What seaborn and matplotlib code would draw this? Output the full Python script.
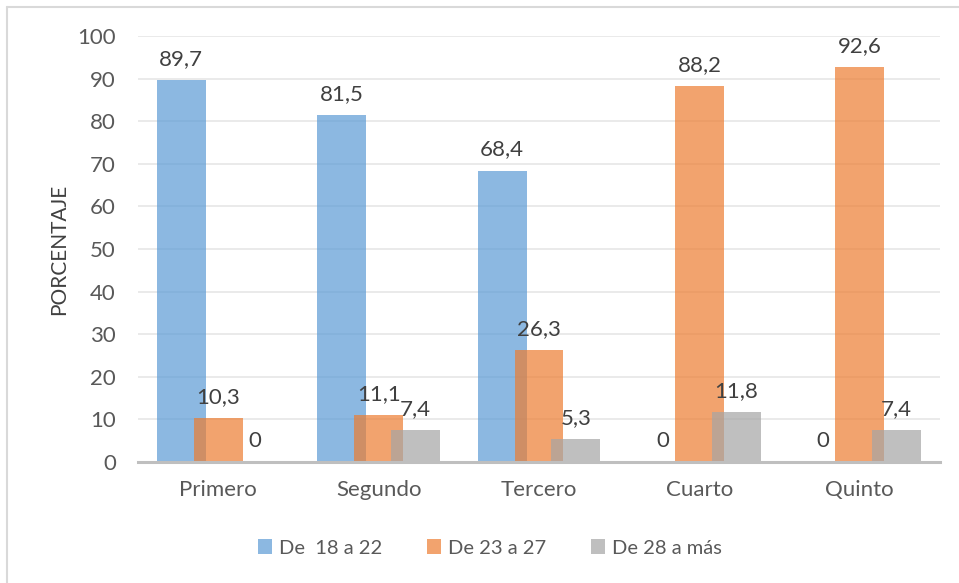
import matplotlib
matplotlib.use("Agg")
import matplotlib.pyplot as plt
import seaborn as sns
import numpy as np
import pandas as pd
from matplotlib.lines import Line2D
from matplotlib.patches import Patch

# Data
cursos = ["Primero", "Segundo", "Tercero", "Cuarto", "Quinto"]
edad_18_22 = [89.7, 81.5, 68.4, 0, 0]
edad_23_27 = [10.3, 11.1, 26.3, 88.2, 92.6]
edad_28_mas = [0, 7.4, 5.3, 11.8, 7.4]
series_nombres = ["De  18 a 22", "De 23 a 27", "De 28 a más"]
y_ticks = [0, 10, 20, 30, 40, 50, 60, 70, 80, 90, 100]

colores = ["#5B9BD5", "#ED7D31", "#A5A5A5"]
texto_gris = "#595959"
fs = 16

sns.set_theme(style="white")
plt.rcParams["font.family"] = ["Lato", "DejaVu Sans"]

fig = plt.figure(figsize=(9.59, 5.83), dpi=100)
ax = fig.add_axes([0.1439, 0.2075, 0.8363, 0.7308])

series = [edad_18_22, edad_23_27, edad_28_mas]
paso = 0.23       # spacing between the overlapping bars of a group
ancho = 0.305     # bar width in category units
base = np.arange(len(cursos))

for i, (vals, color, nombre) in enumerate(zip(series, colores, series_nombres)):
    df = pd.DataFrame({"x": base + (i - 1) * paso, "y": vals})
    sns.barplot(data=df, x="x", y="y", native_scale=True, width=ancho,
                color=color, alpha=0.7, saturation=1, linewidth=0,
                ax=ax, zorder=3, errorbar=None)
    for xv, yv in zip(df["x"], df["y"]):
        ax.annotate(f"{yv:g}".replace(".", ","), (xv, yv),
                    xytext=(0, 8), textcoords="offset points",
                    ha="center", va="bottom", fontsize=fs,
                    color="#404040", zorder=5)

ax.set_xlim(-0.5, len(cursos) - 0.5)
ax.set_ylim(0, 100)
ax.set_xticks(base)
ax.set_xticklabels(cursos)
ax.set_yticks(y_ticks)
ax.tick_params(axis="both", length=0, labelsize=fs, labelcolor=texto_gris)
ax.tick_params(axis="x", pad=13)
ax.tick_params(axis="y", pad=16)
ax.set_xlabel("")
ax.set_ylabel("PORCENTAJE", fontsize=15, color="#404040", labelpad=6)

ax.grid(axis="y", color="#E6E6E6", linewidth=1.2, zorder=0)
ax.set_axisbelow(True)
for s in ["top", "right", "left"]:
    ax.spines[s].set_visible(False)
ax.spines["bottom"].set_color("#BFBFBF")
ax.spines["bottom"].set_linewidth(2.2)
ax.spines["bottom"].set_zorder(4)

handles = [Patch(facecolor=c, alpha=0.7, edgecolor="none") for c in colores]
fig.legend(handles, series_nombres, loc="center", bbox_to_anchor=(0.511, 0.06),
           ncol=3, frameon=False, fontsize=14.5, handlelength=0.72,
           handleheight=0.72, handletextpad=0.35, columnspacing=2.2,
           labelcolor=texto_gris)

# Outer frame (left and top edges)
fig.add_artist(Line2D([0.0073, 0.0073], [0.0, 0.988], transform=fig.transFigure,
                      color="#D9D9D9", linewidth=1.5))
fig.add_artist(Line2D([0.0073, 1.0], [0.988, 0.988], transform=fig.transFigure,
                      color="#D9D9D9", linewidth=1.5))

fig.savefig("out.png", dpi=100)
